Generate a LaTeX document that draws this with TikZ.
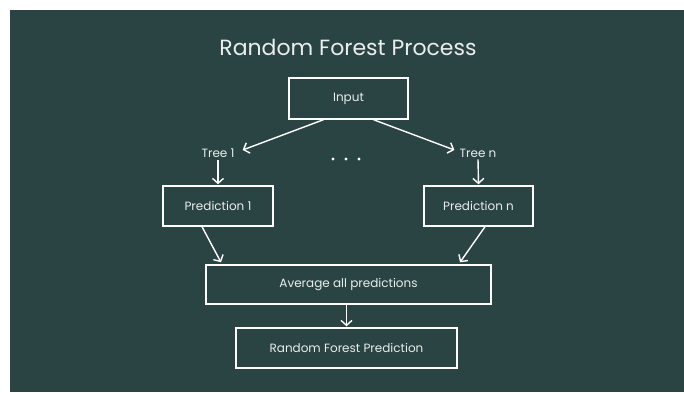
\documentclass[tikz,border=0pt]{standalone}
\usepackage{fontspec}
\setmainfont{Poppins}
\usetikzlibrary{arrows.meta}
\definecolor{forestbg}{HTML}{2A4343}
\definecolor{paletxt}{HTML}{E9EEEE}

\begin{document}
\begin{tikzpicture}[x=1pt, y=-1pt,
  box/.style={draw=white, line width=1.4pt, text=paletxt, inner sep=0pt, minimum height=40pt, font=\fontsize{12}{14}\selectfont},
  lbl/.style={text=paletxt, inner sep=0pt, font=\fontsize{12}{14}\selectfont},
  flow/.style={draw=white, line width=1.4pt, -{Straight Barb[length=5pt,width=11pt]}}]
  \useasboundingbox (0,0) rectangle (684,392);
  \fill[white] (0,0) rectangle (684,392);
  \fill[forestbg] (10,10) rectangle (684,392);
  \node[text=paletxt, font=\fontsize{22}{26}\selectfont] (title) at (348,47) {Random Forest Process};
  \node[box, minimum width=119pt, minimum height=41pt] (input) at (348.5,98.5) {Input};
  \node[lbl] (tree1) at (218,153) {Tree 1};
  \node[lbl] (treen) at (478,153) {Tree n};
  \node[box, minimum width=110pt] (pred1) at (218,206) {Prediction 1};
  \node[box, minimum width=109pt] (predn) at (478.5,206) {Prediction n};
  \node[box, minimum width=285pt, minimum height=39pt] (avg) at (348.5,284.5) {Average all predictions};
  \node[box, minimum width=221pt] (rfpred) at (346.5,348) {Random Forest Prediction};
  % the trees in between
  \foreach \x in {333,346,359}{ \fill[white] (\x,159) circle (1.6pt); }
  \draw[flow] ([xshift=-25pt]input.south) -- ([xshift=8pt,yshift=3pt]tree1.east);
  \draw[flow] ([xshift=25pt]input.south) -- ([xshift=-5pt,yshift=3pt]treen.west);
  \draw[flow] ([yshift=-2pt]tree1.south) -- ([yshift=1pt]pred1.north);
  \draw[flow] ([yshift=-2pt]treen.south) -- ([yshift=1pt]predn.north);
  \draw[flow] ([xshift=-16pt]pred1.south) -- ([xshift=-127.5pt,yshift=2pt]avg.north);
  \draw[flow] ([xshift=6.5pt]predn.south) -- ([xshift=111.5pt,yshift=2pt]avg.north);
  \draw[flow] (rfpred.north |- avg.south) -- ([yshift=1pt]rfpred.north);
\end{tikzpicture}
\end{document}
